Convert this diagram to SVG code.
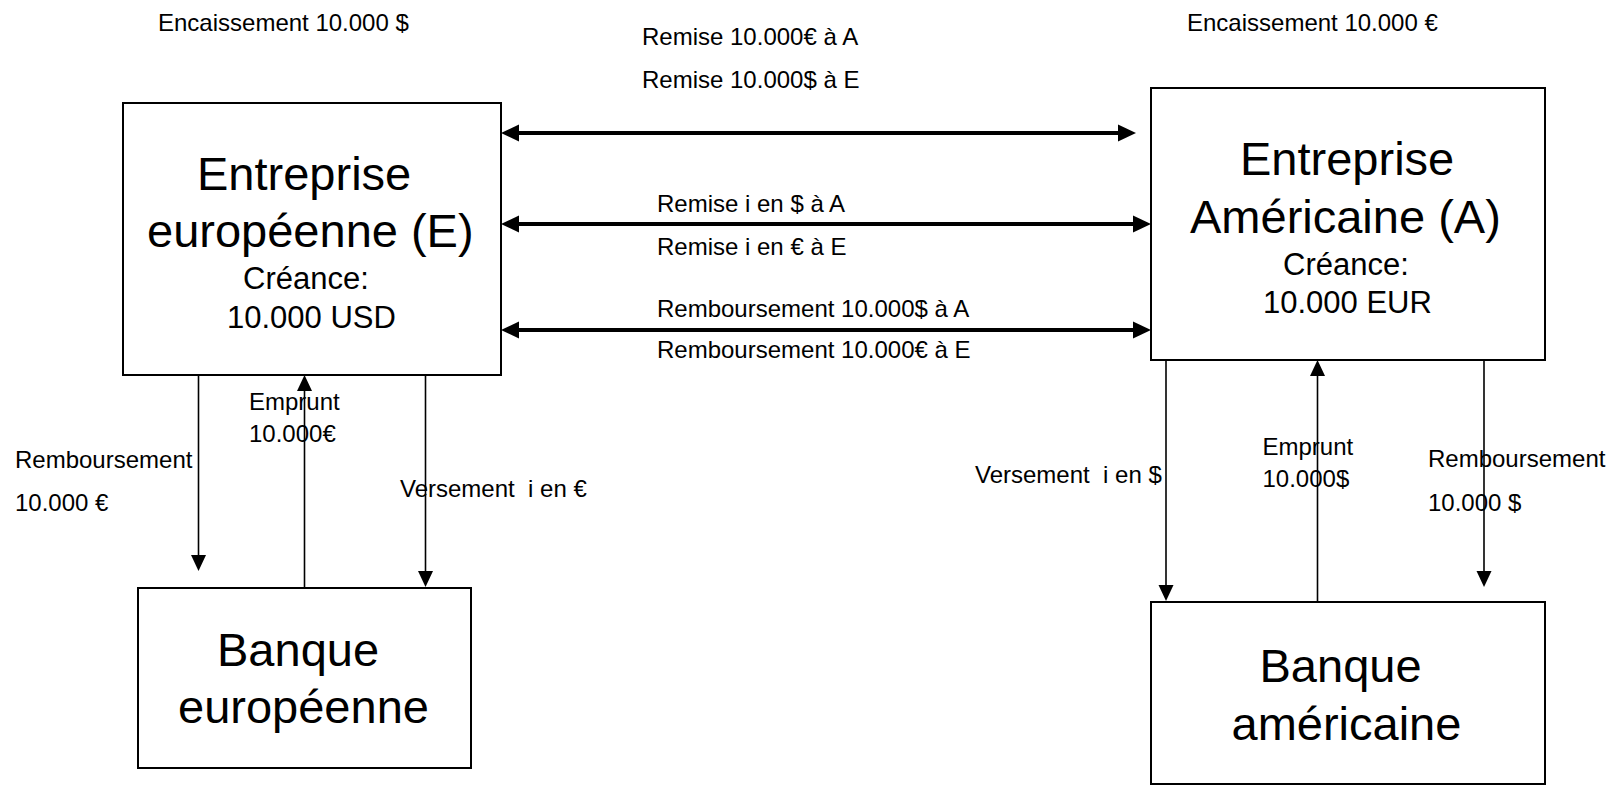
<svg xmlns="http://www.w3.org/2000/svg" width="1617" height="788" viewBox="0 0 1617 788">
<style>
text{font-family:"Liberation Sans",Arial,sans-serif;fill:#000;white-space:pre}
.s{font-size:24px}
.m{font-size:31px}
.b{font-size:47px}
.box{fill:#fff;stroke:#000;stroke-width:2}
.thick{stroke:#000;stroke-width:4;fill:none}
.thin{stroke:#000;stroke-width:1.6;fill:none}
</style>
<defs>
<marker id="ht" markerUnits="userSpaceOnUse" markerWidth="18" markerHeight="17" refX="8" refY="8.5" orient="auto-start-reverse" overflow="visible">
<path d="M0,0 L18,8.5 L0,17 z" fill="#000"/>
</marker>
<marker id="hn" markerUnits="userSpaceOnUse" markerWidth="16" markerHeight="15" refX="6" refY="7.5" orient="auto" overflow="visible">
<path d="M0,0 L16,7.5 L0,15 z" fill="#000"/>
</marker>
</defs>
<rect width="1617" height="788" fill="#fff"/>

<g id="connectors">
<line class="thick" x1="511" y1="133" x2="1126" y2="133" marker-start="url(#ht)" marker-end="url(#ht)"/>
<line class="thick" x1="511" y1="224" x2="1141" y2="224" marker-start="url(#ht)" marker-end="url(#ht)"/>
<line class="thick" x1="511" y1="330" x2="1141" y2="330" marker-start="url(#ht)" marker-end="url(#ht)"/>
<line class="thin" x1="198.5" y1="375" x2="198.5" y2="561" marker-end="url(#hn)"/>
<line class="thin" x1="304.5" y1="588" x2="304.5" y2="385" marker-end="url(#hn)"/>
<line class="thin" x1="425.5" y1="375" x2="425.5" y2="577" marker-end="url(#hn)"/>
<line class="thin" x1="1166" y1="360" x2="1166" y2="591" marker-end="url(#hn)"/>
<line class="thin" x1="1317.5" y1="602" x2="1317.5" y2="370" marker-end="url(#hn)"/>
<line class="thin" x1="1484" y1="360" x2="1484" y2="577" marker-end="url(#hn)"/>
</g>

<g id="labels">
<text class="s" x="158" y="31">Encaissement 10.000 $</text>
<text class="s" x="1187" y="31">Encaissement 10.000 €</text>
<text class="s" x="642" y="45">Remise 10.000€ à A</text>
<text class="s" x="642" y="88">Remise 10.000$ à E</text>
<text class="s" x="657" y="212">Remise i en $ à A</text>
<text class="s" x="657" y="255">Remise i en € à E</text>
<text class="s" x="657" y="317">Remboursement 10.000$ à A</text>
<text class="s" x="657" y="358">Remboursement 10.000€ à E</text>
<text class="s" x="15" y="468">Remboursement</text>
<text class="s" x="15" y="511">10.000 €</text>
<text class="s" x="249" y="410">Emprunt</text>
<text class="s" x="249" y="442">10.000€</text>
<text class="s" x="400" y="497" xml:space="preserve">Versement  i en €</text>
<text class="s" x="975" y="483" xml:space="preserve">Versement  i en $</text>
<text class="s" x="1262.5" y="455">Emprunt</text>
<text class="s" x="1262.5" y="487">10.000$</text>
<text class="s" x="1428" y="467">Remboursement</text>
<text class="s" x="1428" y="511">10.000 $</text>
</g>

<g id="entreprise-europeenne">
<rect class="box" x="123" y="103" width="378" height="272"/>
<text class="b" x="197" y="190">Entreprise</text>
<text class="b" x="147" y="247">européenne (E)</text>
<text class="m" x="243" y="289">Créance:</text>
<text class="m" x="227" y="328">10.000 USD</text>
</g>

<g id="entreprise-americaine">
<rect class="box" x="1151" y="88" width="394" height="272"/>
<text class="b" x="1240" y="175">Entreprise</text>
<text class="b" x="1190" y="233">Américaine (A)</text>
<text class="m" x="1283" y="275">Créance:</text>
<text class="m" x="1263" y="313">10.000 EUR</text>
</g>

<g id="banque-europeenne">
<rect class="box" x="138" y="588" width="333" height="180"/>
<text class="b" x="217" y="666">Banque</text>
<text class="b" x="178" y="723">européenne</text>
</g>

<g id="banque-americaine">
<rect class="box" x="1151" y="602" width="394" height="182"/>
<text class="b" x="1259.5" y="682">Banque</text>
<text class="b" x="1231.5" y="740">américaine</text>
</g>
</svg>
